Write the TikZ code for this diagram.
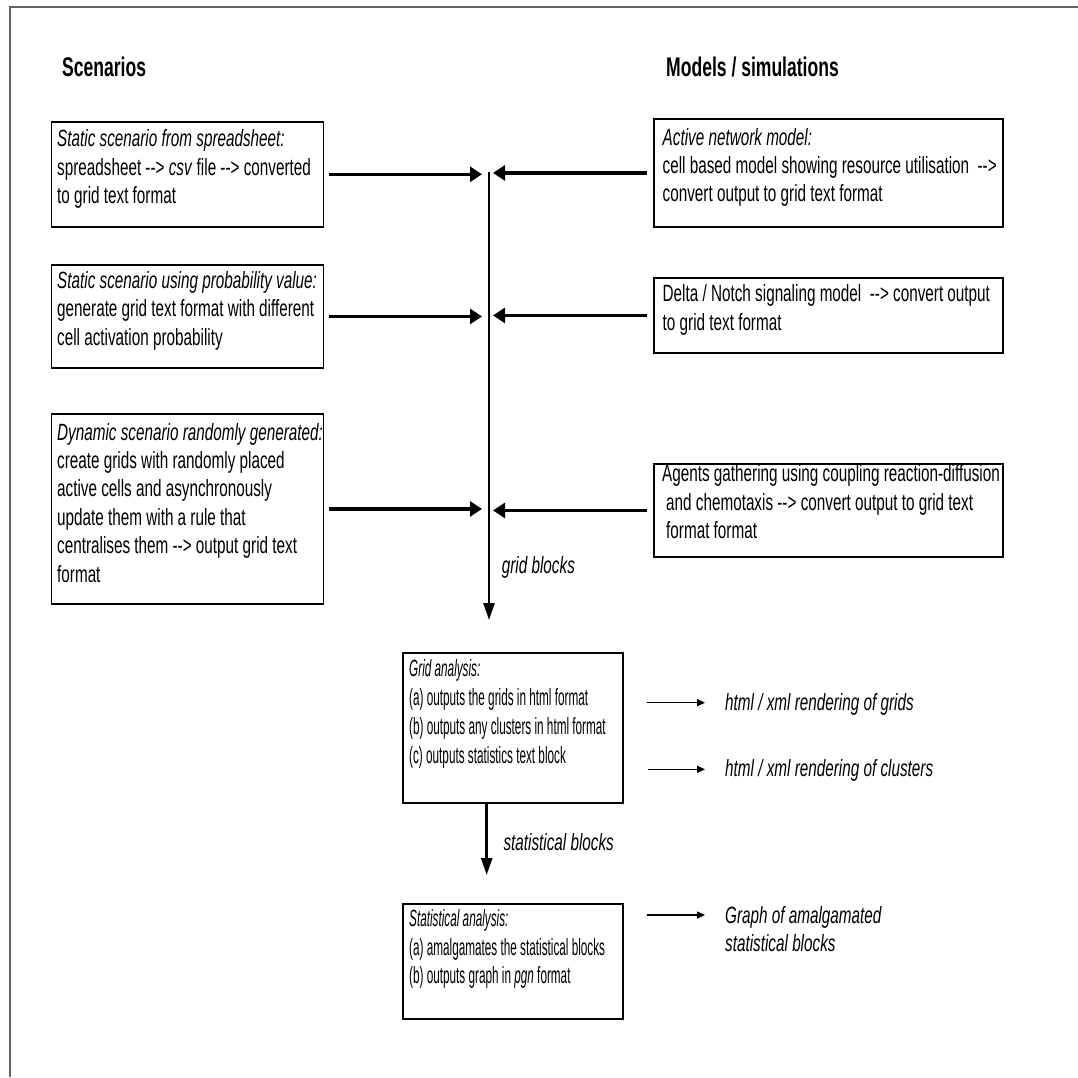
\documentclass[tikz,border=0pt]{standalone}
\usepackage{fontspec}
\usetikzlibrary{arrows.meta}
% condensed sans faces used throughout the chart
\newfontfamily\bodyfam{Liberation Sans}[FakeStretch=0.65]
\newfontfamily\narrowfam{Liberation Sans}[FakeStretch=0.5]

\tikzset{
  frame/.style={draw=black!60, line width=1.4pt},
  panel/.style={draw=black, line width=1.9pt, inner sep=0pt, anchor=north west},
  bodytext/.style={font=\bodyfam\fontsize{23.5}{28.4}\selectfont, inner sep=0pt, anchor=base west},
  smalltext/.style={font=\narrowfam\fontsize{23.5}{29}\selectfont, inner sep=0pt, anchor=base west},
  smalltextb/.style={font=\narrowfam\fontsize{23.5}{28.4}\selectfont, inner sep=0pt, anchor=base west},
  heading/.style={font=\bodyfam\bfseries\fontsize{27}{32}\selectfont, inner sep=0pt, anchor=base west},
  feed/.style={line width=3.3pt, -{Triangle[length=12pt,width=15pt]}},
  trunk/.style={line width=2.6pt, -{Triangle[length=17pt,width=11pt]}},
  result/.style={line width=1.5pt, -{Triangle[length=8pt,width=7pt]}},
}
\newcommand{\lines}[1]{\begin{tabular}[t]{@{}l@{}}#1\end{tabular}}

\begin{document}
\begin{tikzpicture}[x=1pt, y=-1pt]
  \fill[white] (0,0) rectangle (1078,1077);
  \useasboundingbox (0,0) rectangle (1078,1077);

  % outer frame (top and left edges)
  \draw[frame] (1078,7) -- (10,7) -- (10,1077);

  % column headings
  \node[heading] (hs) at (62,76) {Scenarios};
  \node[heading] (hm) at (666,76) {Models / simulations};

  % scenario panels
  \node[panel, minimum width=272pt, minimum height=105.3pt] (L1) at (50.5,120.7) {};
  \node[panel, minimum width=272pt, minimum height=103pt] (L2) at (50.5,264) {};
  \node[panel, minimum width=272pt, minimum height=190pt] (L3) at (50.5,413) {};

  \node[bodytext] (L1t) at (57,146.7) {\lines{\textit{Static scenario from spreadsheet:}\\
    spreadsheet -{}-> \textit{csv} file -{}-> converted\\
    to grid text format}};
  \node[bodytext] (L2t) at (57,288.3) {\lines{\textit{Static scenario using probability value:}\\
    generate grid text format with different\\
    cell activation probability}};
  \node[bodytext] (L3t) at (57,440) {\lines{\textit{Dynamic scenario randomly generated:}\\
    create grids with randomly placed\\
    active cells and asynchronously\\
    update them with a rule that\\
    centralises them -{}-> output grid text\\
    format}};

  % model panels
  \node[panel, minimum width=349pt, minimum height=108pt] (R1) at (653,118) {};
  \node[panel, minimum width=349pt, minimum height=75pt] (R2) at (653,277) {};
  \node[panel, minimum width=349pt, minimum height=93pt] (R3) at (653,463) {};

  \node[bodytext] (R1t) at (662.5,145) {\lines{\textit{Active network model:}\\
    cell based model showing resource utilisation\ \ -{}->\\
    convert output to grid text format}};
  \node[bodytext] (R2t) at (662.5,301.7) {\lines{Delta / Notch signaling model\ \ -{}-> convert output\\
    to grid text format}};
  \node[bodytext] (R3t) at (662,481.7) {\lines{Agents gathering using coupling reaction-diffusion\\
    \hspace{4pt}and chemotaxis -{}-> convert output to grid text\\
    \hspace{4pt}format format}};

  % collecting trunk
  \coordinate (trunkTop) at (489,172);
  \coordinate (trunkEnd) at (489,620);
  \draw[trunk] (trunkTop) -- (trunkEnd);
  \node[bodytext] (gb) at (501.7,573.3) {\textit{grid blocks}};

  \draw[feed, shorten <=5pt, shorten >=7pt] (L1.east) -- (L1.east -| trunkTop);
  \draw[feed, shorten <=5pt, shorten >=7pt] (L2.east) -- (L2.east -| trunkTop);
  \draw[feed, shorten <=5pt, shorten >=7pt] (L3.east) -- (L3.east -| trunkTop);
  \draw[feed, shorten <=6pt, shorten >=4pt] (R1.west) -- (R1.west -| trunkTop);
  \draw[feed, shorten <=6pt, shorten >=4pt] (R2.west) -- (R2.west -| trunkTop);
  \draw[feed, shorten <=6pt, shorten >=4pt] (R3.west) -- (R3.west -| trunkTop);

  % grid analysis
  \node[panel, minimum width=219.7pt, minimum height=150pt] (GA) at (402,651.7) {};
  \node[smalltext] (GAt) at (409,676) {\lines{\textit{Grid analysis:}\\
    (a) outputs the grids in html format\\
    (b) outputs any clusters in html format\\
    (c) outputs statistics text block}};

  \coordinate (gridOut) at (646.7,702.7);
  \coordinate (clusterOut) at (648,769.3);
  \node[bodytext] (rg) at (725,710) {\textit{html / xml rendering of grids}};
  \node[bodytext] (rc) at (725,776.7) {\textit{html / xml rendering of clusters}};
  \draw[result, shorten >=20pt] (gridOut) -- (gridOut -| rg.west);
  \draw[result, shorten >=20pt] (clusterOut) -- (clusterOut -| rc.west);

  % statistical analysis
  \coordinate (statTip) at (486.7,875);
  \draw[trunk] (GA.south -| statTip) -- (statTip);
  \node[bodytext] (sb) at (503.3,850) {\textit{statistical blocks}};

  \node[panel, minimum width=219.7pt, minimum height=115pt] (SA) at (402,903.3) {};
  \node[smalltextb] (SAt) at (409,926.7) {\lines{\textit{Statistical analysis:}\\
    (a) amalgamates the statistical blocks\\
    (b) outputs graph in \textit{pgn} format}};

  \coordinate (graphOut) at (646.7,915);
  \node[bodytext] (gr) at (725,923.3) {\lines{\textit{Graph of amalgamated}\\
    \textit{statistical blocks}}};
  \draw[result, shorten >=20pt] (graphOut) -- (graphOut -| gr.west);
\end{tikzpicture}
\end{document}
